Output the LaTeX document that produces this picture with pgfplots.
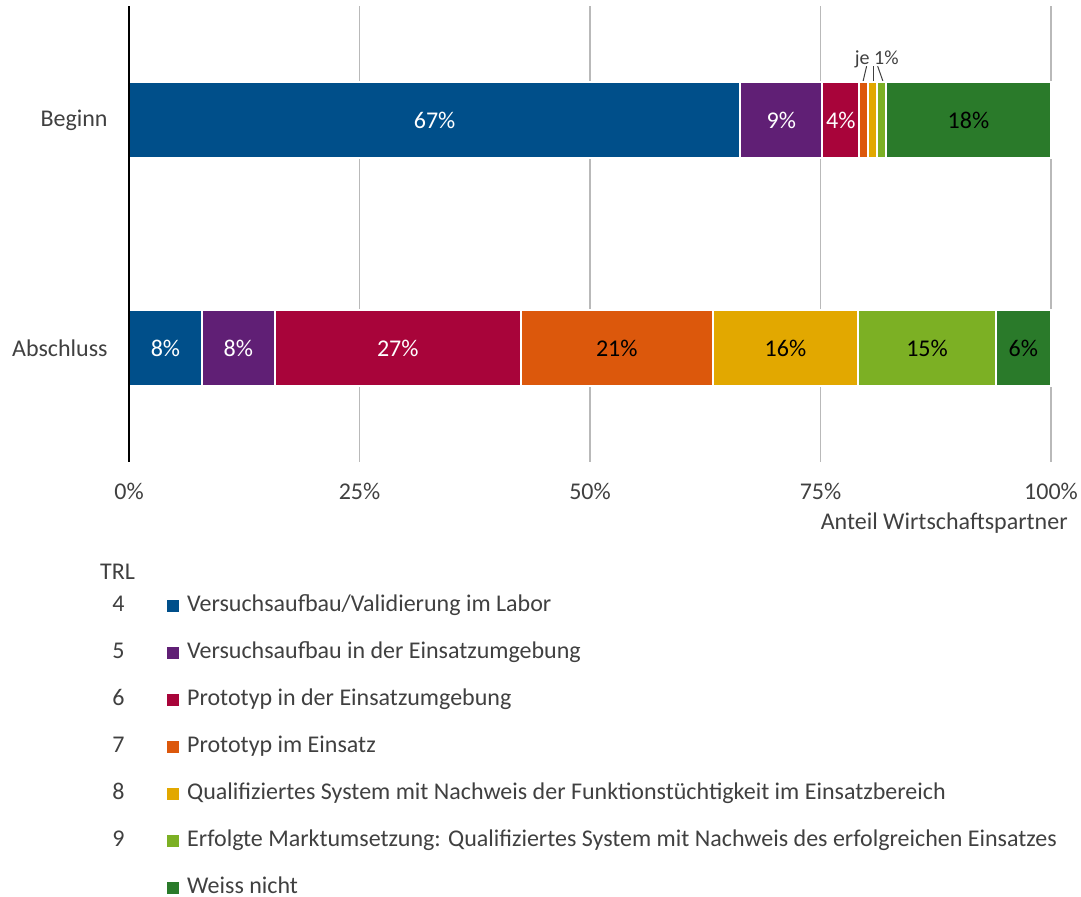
\documentclass[border=0pt]{standalone}
\usepackage{fontspec}
\setmainfont{Carlito}
\usepackage{pgfplots}
\pgfplotsset{compat=1.18}
\definecolor{trlA}{RGB}{0,79,138}
\definecolor{trlB}{RGB}{96,31,117}
\definecolor{trlC}{RGB}{168,4,58}
\definecolor{trlD}{RGB}{220,88,12}
\definecolor{trlE}{RGB}{226,168,0}
\definecolor{trlF}{RGB}{124,176,36}
\definecolor{trlG}{RGB}{42,122,42}
\definecolor{txt}{RGB}{64,64,64}
\pgfplotsset{
  sq/.style={legend image code/.code={%
    \path (-15.5pt,0pt); \fill[#1] (0pt,-2.75pt) rectangle (5.5pt,2.75pt); \path (9.5pt,0pt);}},
  seg/.style={fill=#1, draw=white, line width=1pt},
}
\begin{document}
\begin{tikzpicture}[font=\fontsize{12}{14}\selectfont, text=txt]
\useasboundingbox (-64.5pt,-217.5pt) rectangle (476pt,231pt);
\begin{axis}[
  x=4.61pt, y=114pt,
  xmin=0, xmax=100, ymin=-0.5, ymax=1.5,
  clip=false,
  xbar stacked, bar width=38pt,
  ytick={0,1}, yticklabels={Abschluss,Beginn},
  xtick={0,25,50,75,100}, xticklabels={0\%,25\%,50\%,75\%,100\%},
  major tick length=0pt,
  axis line style={draw=none},
  xmajorgrids, grid style={draw=gray!55, line width=0.6pt},
  xticklabel style={anchor=center, yshift=-14.5pt},
  yticklabel style={anchor=east, inner sep=0pt, xshift=-10.5pt},
  xlabel={Anteil Wirtschaftspartner},
  xlabel style={at={(axis description cs:1,0)}, anchor=east, inner sep=0pt,
    xshift=8.5pt, yshift=-30.5pt},
  point meta=explicit symbolic,
  nodes near coords,
  every node near coord/.append style={anchor=center, inner sep=0pt},
  legend style={at={(0,0)}, anchor=north west, xshift=-14.5pt, yshift=-65.5pt,
    draw=none, fill=none, inner sep=0pt, column sep=0pt, row sep=11.5pt,
    nodes={inner sep=0pt, text height=9pt, text depth=3pt}},
  legend columns=2, legend cell align=left,
  % the y axis line goes over the bars
  after end axis/.code={\draw[black, line width=0.6pt] (rel axis cs:0,0) -- (rel axis cs:0,1);},
]
% legend first, so that the bars add no entries
\addlegendimage{empty legend}\addlegendentry{\makebox[18pt][c]{4}}
\addlegendimage{sq=trlA}\addlegendentry{Versuchsaufbau/Validierung im Labor}
\addlegendimage{empty legend}\addlegendentry{\makebox[18pt][c]{5}}
\addlegendimage{sq=trlB}\addlegendentry{Versuchsaufbau in der Einsatzumgebung}
\addlegendimage{empty legend}\addlegendentry{\makebox[18pt][c]{6}}
\addlegendimage{sq=trlC}\addlegendentry{Prototyp in der Einsatzumgebung}
\addlegendimage{empty legend}\addlegendentry{\makebox[18pt][c]{7}}
\addlegendimage{sq=trlD}\addlegendentry{Prototyp im Einsatz}
\addlegendimage{empty legend}\addlegendentry{\makebox[18pt][c]{8}}
\addlegendimage{sq=trlE}\addlegendentry{Qualifiziertes System mit Nachweis der Funktionstüchtigkeit im Einsatzbereich}
\addlegendimage{empty legend}\addlegendentry{\makebox[18pt][c]{9}}
\addlegendimage{sq=trlF}\addlegendentry{Erfolgte Marktumsetzung: Qualifiziertes System mit Nachweis des erfolgreichen Einsatzes}
\addlegendimage{empty legend}\addlegendentry{\makebox[18pt][c]{}}
\addlegendimage{sq=trlG}\addlegendentry{Weiss nicht}

\addplot[seg=trlA, every node near coord/.append style={text=white}] table[x=x, y=y, meta=label] {
x y label
66.3 1 67\%
7.9 0 8\%
};
\addplot[seg=trlB, every node near coord/.append style={text=white}] table[x=x, y=y, meta=label] {
x y label
8.9 1 9\%
7.9 0 8\%
};
\addplot[seg=trlC, every node near coord/.append style={text=white}] table[x=x, y=y, meta=label] {
x y label
4.0 1 4\%
26.7 0 27\%
};
\addplot[seg=trlD, every node near coord/.append style={text=black}] table[x=x, y=y, meta=label] {
x y label
0.9 1 {}
20.8 0 21\%
};
\addplot[seg=trlE, every node near coord/.append style={text=black}] table[x=x, y=y, meta=label] {
x y label
1.0 1 {}
15.8 0 16\%
};
\addplot[seg=trlF, every node near coord/.append style={text=black}] table[x=x, y=y, meta=label] {
x y label
1.0 1 {}
14.9 0 15\%
};
\addplot[seg=trlG, every node near coord/.append style={text=black}] table[x=x, y=y, meta=label] {
x y label
17.9 1 18\%
6.0 0 6\%
};

\node[font=\fontsize{10}{12}\selectfont, inner sep=0pt] at (axis cs:81.1,1.268) {je 1\%};
\draw[txt, line width=0.5pt] (axis cs:80.0,1.236) -- (axis cs:79.6,1.167);
\draw[txt, line width=0.5pt] (axis cs:80.7,1.236) -- (axis cs:80.7,1.167);
\draw[txt, line width=0.5pt] (axis cs:81.2,1.236) -- (axis cs:81.8,1.167);
\node[inner sep=0pt] at ([xshift=-5.75pt,yshift=-55pt]rel axis cs:0,0) {TRL};
\end{axis}
\end{tikzpicture}
\end{document}
